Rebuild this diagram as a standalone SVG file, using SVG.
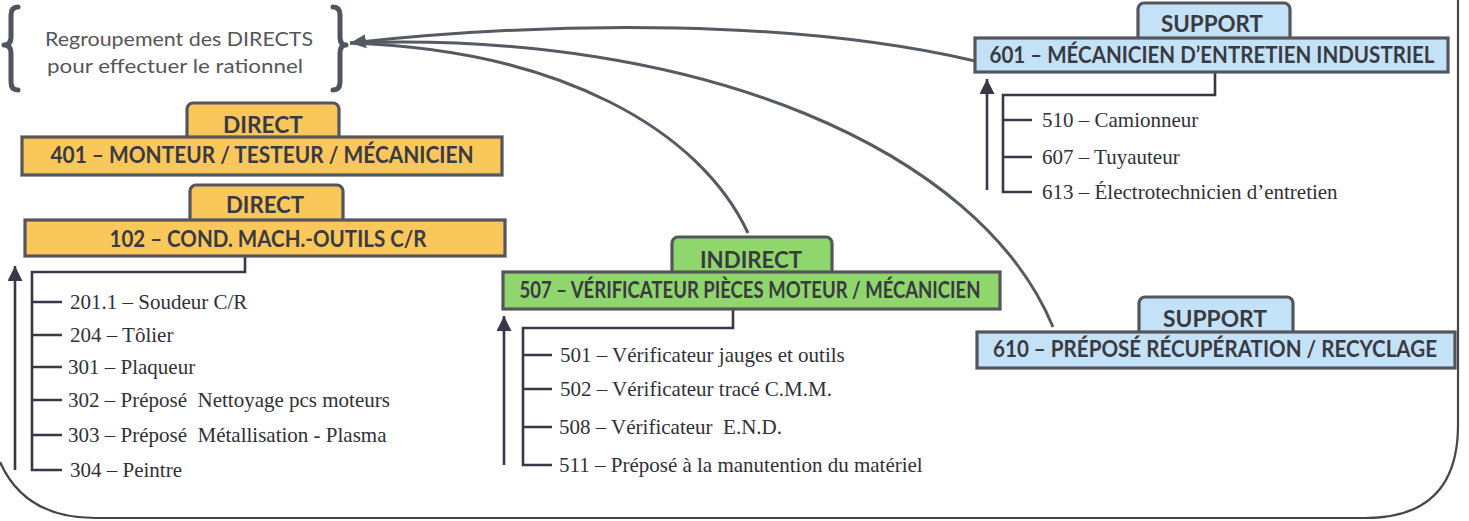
<svg xmlns="http://www.w3.org/2000/svg" width="1469" height="521" viewBox="0 0 1469 521">
  <style>
    .frame { fill: none; stroke: #45454f; stroke-width: 2.2; }
    .brace { fill: none; stroke: #50545e; stroke-width: 5; stroke-linecap: round; stroke-linejoin: round; }
    .curve { fill: none; stroke: #555a63; stroke-width: 3; }
    .tree { fill: none; stroke: #383848; stroke-width: 2.6; }
    .up { fill: none; stroke: #383848; stroke-width: 2.6; }
    .box { stroke: #55555c; stroke-width: 3.2; }
    .tab { stroke: #55555c; stroke-width: 3.2; }
    .direct { fill: #fac85a; }
    .indirect { fill: #8fd66c; }
    .support { fill: #c4e2f7; }
    .lbl { font-family: "Lato", "Liberation Sans", sans-serif; font-weight: bold; fill: #3a3a42; text-anchor: middle; }
    .item { font-family: "Liberation Serif", serif; font-size: 21px; fill: #303038; white-space: pre; }
    .note { font-family: "Lato", "Liberation Sans", sans-serif; font-size: 19px; fill: #55555a; text-anchor: middle; }
  </style>
  <defs>
    <marker id="head" markerUnits="userSpaceOnUse" markerWidth="18" markerHeight="16" refX="16" refY="8" orient="auto">
      <path d="M0,1 L16,8 L0,15 Z" fill="#555a63"/>
    </marker>
    <marker id="uphead" markerUnits="userSpaceOnUse" markerWidth="16" markerHeight="16" refX="15" refY="7.5" orient="auto">
      <path d="M0,0 L15,7.5 L0,15 Z" fill="#383848"/>
    </marker>
  </defs>

  <rect width="1469" height="521" fill="#ffffff"/>

  <!-- outer frame -->
  <path class="frame" d="M1458,0 L1458,425 Q1458,518 1365,518 L95,518 Q25,518 0,462"/>

  <!-- grouping note with braces -->
  <g id="regroupement">
    <path class="brace" d="M18,7 Q11,7 11,15 L11,37 Q11,45 4,45 Q11,45 11,53 L11,82 Q11,90 18,90"/>
    <path class="brace" d="M333,7 Q340,7 340,15 L340,37 Q340,45 346,45 Q340,45 340,53 L340,82 Q340,90 333,90"/>
    <text class="note" x="179" y="46" textLength="268" lengthAdjust="spacingAndGlyphs">Regroupement des DIRECTS</text>
    <text class="note" x="175" y="73" textLength="256" lengthAdjust="spacingAndGlyphs">pour effectuer le rationnel</text>
  </g>

  <!-- connectors -->
  <g id="connectors">
    <path class="curve" d="M975,61 C800,20 560,20 350,43" marker-end="url(#head)"/>
    <path class="curve" d="M1053,327 C980,150 700,30 350,43"/>
    <path class="curve" d="M748,233 C700,130 560,50 350,43"/>
    <!-- tree under 102 -->
    <path class="tree" d="M245,256 L245,272 L32,272 L32,470 L62,470"/>
    <path class="tree" d="M32,302 L62,302 M32,335 L62,335 M32,367 L62,367 M32,400 L62,400 M32,435 L62,435"/>
    <line class="up" x1="15" y1="470" x2="15" y2="266" marker-end="url(#uphead)"/>
    <!-- tree under 507 -->
    <path class="tree" d="M733,309 L733,328 L523,328 L523,465 L552,465"/>
    <path class="tree" d="M523,355 L552,355 M523,389 L552,389 M523,427 L552,427"/>
    <line class="up" x1="504" y1="465" x2="504" y2="316" marker-end="url(#uphead)"/>
    <!-- tree under 601 -->
    <path class="tree" d="M1215,72 L1215,95 L1003,95 L1003,192 L1032,192"/>
    <path class="tree" d="M1003,120 L1032,120 M1003,157 L1032,157"/>
    <line class="up" x1="987" y1="190" x2="987" y2="79" marker-end="url(#uphead)"/>
  </g>

  <!-- 401 -->
  <g id="n401">
    <rect class="tab direct" x="187" y="103" width="152" height="40" rx="6"/>
    <rect class="box direct" x="22" y="137" width="480" height="38"/>
    <text class="lbl" x="263" y="133" font-size="23" textLength="80" lengthAdjust="spacingAndGlyphs">DIRECT</text>
    <text class="lbl" x="262" y="163" font-size="23" textLength="423" lengthAdjust="spacingAndGlyphs">401 – MONTEUR / TESTEUR / MÉCANICIEN</text>
  </g>

  <!-- 102 -->
  <g id="n102">
    <rect class="tab direct" x="190" y="185" width="153" height="40" rx="6"/>
    <rect class="box direct" x="25" y="220" width="480" height="36"/>
    <text class="lbl" x="265" y="213" font-size="23" textLength="78" lengthAdjust="spacingAndGlyphs">DIRECT</text>
    <text class="lbl" x="268" y="247" font-size="23" textLength="317" lengthAdjust="spacingAndGlyphs">102 – COND. MACH.-OUTILS C/R</text>
  </g>
  <g id="list102">
    <text class="item" x="70" y="309">201.1 – Soudeur C/R</text>
    <text class="item" x="70" y="342">204 – Tôlier</text>
    <text class="item" x="68" y="374">301 – Plaqueur</text>
    <text class="item" x="68" y="407">302 – Préposé  Nettoyage pcs moteurs</text>
    <text class="item" x="68" y="442">303 – Préposé  Métallisation - Plasma</text>
    <text class="item" x="70" y="477">304 – Peintre</text>
  </g>

  <!-- 507 -->
  <g id="n507">
    <rect class="tab indirect" x="672" y="237" width="160" height="40" rx="6"/>
    <rect class="box indirect" x="503" y="272" width="497" height="37"/>
    <text class="lbl" x="751" y="268" font-size="23" textLength="102" lengthAdjust="spacingAndGlyphs">INDIRECT</text>
    <text class="lbl" x="750" y="298" font-size="22" textLength="461" lengthAdjust="spacingAndGlyphs">507 – VÉRIFICATEUR PIÈCES MOTEUR / MÉCANICIEN</text>
  </g>
  <g id="list507">
    <text class="item" x="560" y="362">501 – Vérificateur jauges et outils</text>
    <text class="item" x="560" y="396">502 – Vérificateur tracé C.M.M.</text>
    <text class="item" x="559" y="434">508 – Vérificateur  E.N.D.</text>
    <text class="item" x="559" y="472">511 – Préposé à la manutention du matériel</text>
  </g>

  <!-- 601 -->
  <g id="n601">
    <rect class="tab support" x="1138" y="3" width="152" height="40" rx="6"/>
    <rect class="box support" x="975" y="38" width="473" height="34"/>
    <text class="lbl" x="1212" y="32" font-size="23" textLength="102" lengthAdjust="spacingAndGlyphs">SUPPORT</text>
    <text class="lbl" x="1212" y="63" font-size="22" textLength="445" lengthAdjust="spacingAndGlyphs">601 – MÉCANICIEN D’ENTRETIEN INDUSTRIEL</text>
  </g>
  <g id="list601">
    <text class="item" x="1042" y="127">510 – Camionneur</text>
    <text class="item" x="1042" y="164">607 – Tuyauteur</text>
    <text class="item" x="1042" y="199">613 – Électrotechnicien d’entretien</text>
  </g>

  <!-- 610 -->
  <g id="n610">
    <rect class="tab support" x="1139" y="297" width="154" height="40" rx="6"/>
    <rect class="box support" x="977" y="332" width="478" height="36"/>
    <text class="lbl" x="1215" y="327" font-size="23" textLength="104" lengthAdjust="spacingAndGlyphs">SUPPORT</text>
    <text class="lbl" x="1215" y="357" font-size="22" textLength="444" lengthAdjust="spacingAndGlyphs">610 – PRÉPOSÉ RÉCUPÉRATION / RECYCLAGE</text>
  </g>
</svg>
